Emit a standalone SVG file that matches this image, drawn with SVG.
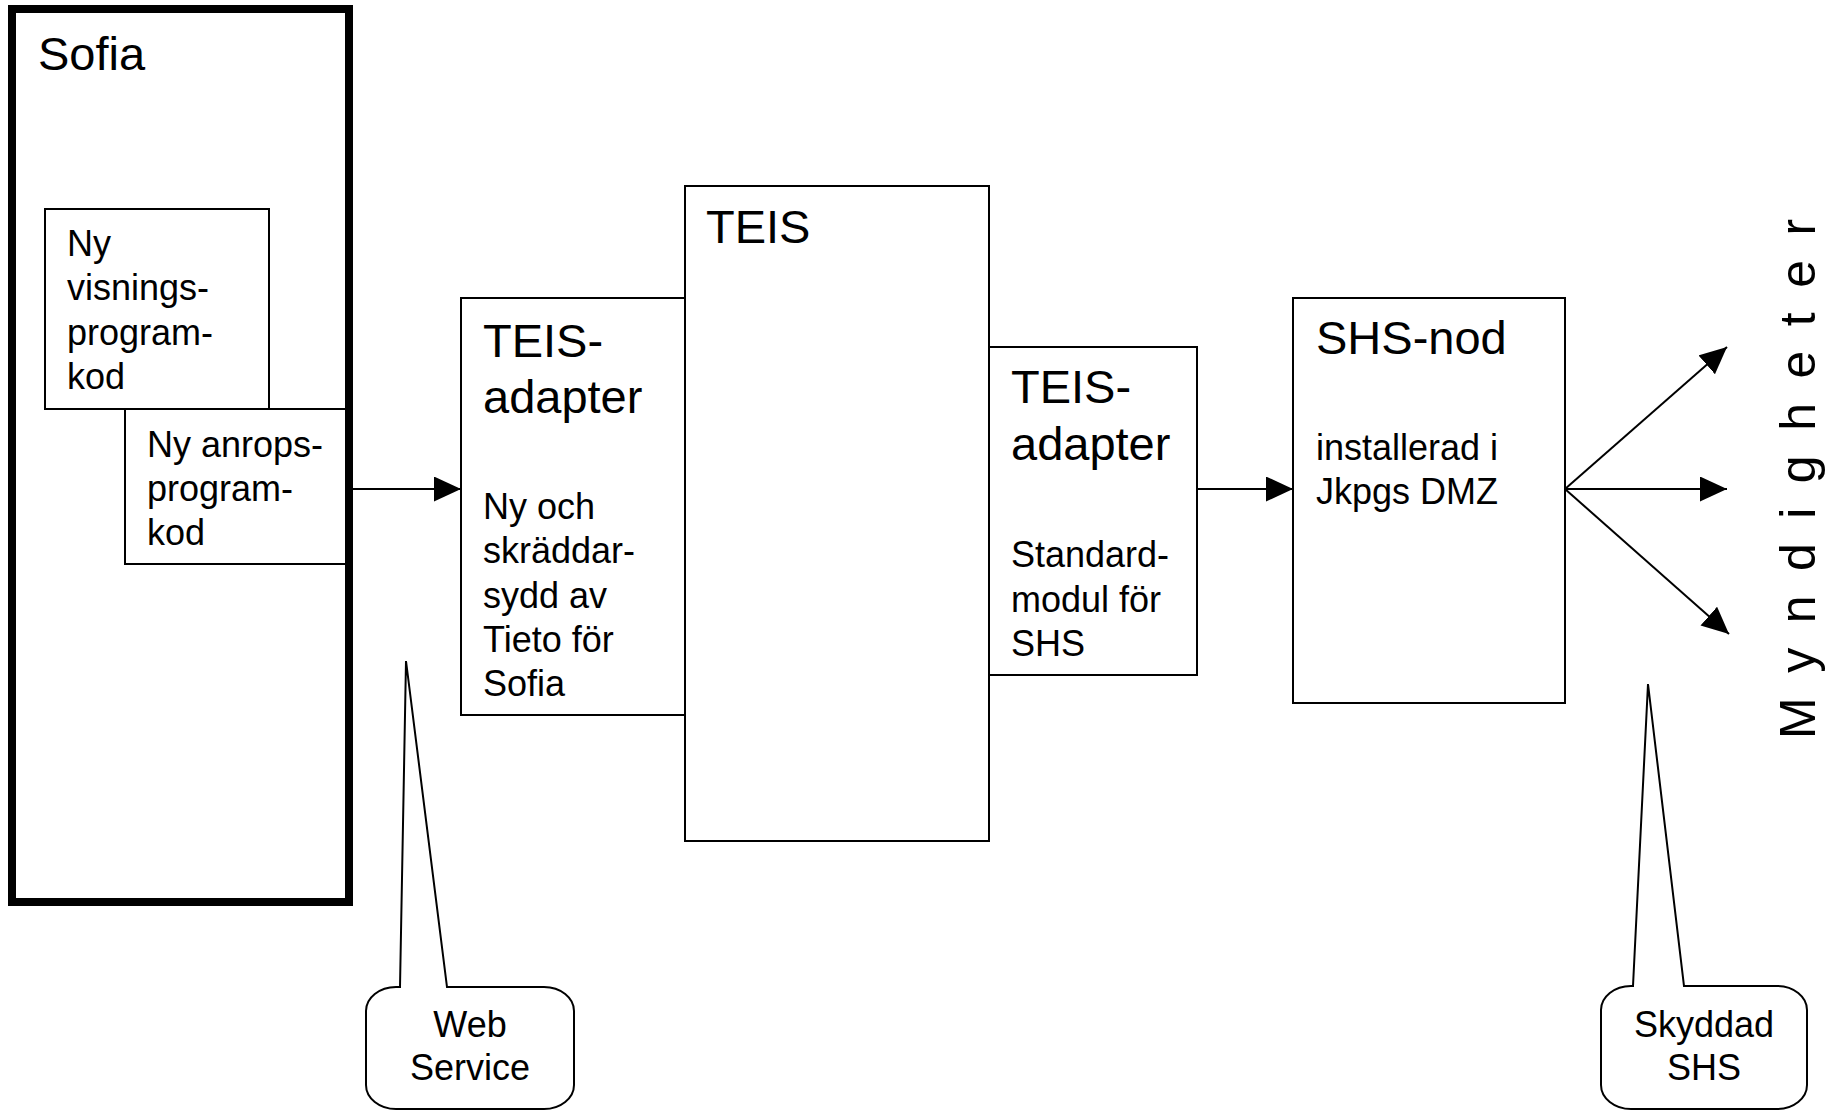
<svg xmlns="http://www.w3.org/2000/svg" width="1833" height="1111" viewBox="0 0 1833 1111">
<style>
text{font-family:"Liberation Sans",Arial,sans-serif;fill:#000}
.big{font-size:47px}
.mid{font-size:36px}
.box{fill:#fff;stroke:#000;stroke-width:2}
.thick{fill:#fff;stroke:#000;stroke-width:8}
.conn{fill:none;stroke:#000;stroke-width:2}
.callout{fill:#fff;stroke:#000;stroke-width:2}
</style>
<defs>
<marker id="ah" markerUnits="userSpaceOnUse" markerWidth="28" markerHeight="26" refX="27" refY="12.5" orient="auto">
<path d="M0,0 L27,12.5 L0,25 Z" fill="#000"/>
</marker>
</defs>
<rect width="1833" height="1111" fill="#fff"/>
<g id="sofia">
<rect class="thick" x="12" y="9" width="337" height="893"/>
<text class="big" x="38" y="70">Sofia</text>
</g>
<g id="visning">
<rect class="box" x="45" y="209" width="224" height="200"/>
<text class="mid"><tspan x="67" y="256">Ny</tspan><tspan x="67" y="300">visnings-</tspan><tspan x="67" y="345">program-</tspan><tspan x="67" y="389">kod</tspan></text>
</g>
<g id="anrop">
<rect class="box" x="125" y="409" width="224" height="155"/>
<text class="mid"><tspan x="147" y="457">Ny anrops-</tspan><tspan x="147" y="501">program-</tspan><tspan x="147" y="545">kod</tspan></text>
</g>
<line x1="349" y1="9" x2="349" y2="902" stroke="#000" stroke-width="8"/>
<g id="teisadapter1">
<rect class="box" x="461" y="298" width="224" height="417"/>
<text class="big"><tspan x="483" y="357">TEIS-</tspan><tspan x="483" y="413">adapter</tspan></text>
<text class="mid"><tspan x="483" y="519">Ny och</tspan><tspan x="483" y="563">skräddar-</tspan><tspan x="483" y="608">sydd av</tspan><tspan x="483" y="652">Tieto för</tspan><tspan x="483" y="696">Sofia</tspan></text>
</g>
<g id="teis">
<rect class="box" x="685" y="186" width="304" height="655"/>
<text class="big" x="706" y="243">TEIS</text>
</g>
<g id="teisadapter2">
<rect class="box" x="989" y="347" width="208" height="328"/>
<text class="big"><tspan x="1011" y="403">TEIS-</tspan><tspan x="1011" y="460">adapter</tspan></text>
<text class="mid"><tspan x="1011" y="567">Standard-</tspan><tspan x="1011" y="612">modul för</tspan><tspan x="1011" y="656">SHS</tspan></text>
</g>
<g id="shsnod">
<rect class="box" x="1293" y="298" width="272" height="405"/>
<text class="big" x="1316" y="354">SHS-nod</text>
<text class="mid"><tspan x="1316" y="460">installerad i</tspan><tspan x="1316" y="504">Jkpgs DMZ</tspan></text>
</g>
<g id="myndigheter">
<text transform="translate(1815,739) rotate(-90)" x="0" y="0" style="font-size:50px;letter-spacing:24.5px">Myndigheter</text>
</g>
<g id="connectors">
<line class="conn" x1="353" y1="489" x2="461" y2="489" marker-end="url(#ah)"/>
<line class="conn" x1="1197" y1="489" x2="1293" y2="489" marker-end="url(#ah)"/>
<line class="conn" x1="1565" y1="489" x2="1727" y2="347" marker-end="url(#ah)"/>
<line class="conn" x1="1565" y1="489" x2="1727" y2="489" marker-end="url(#ah)"/>
<line class="conn" x1="1565" y1="489" x2="1729" y2="634" marker-end="url(#ah)"/>
</g>
<g id="webservice">
<path class="callout" d="M400,987 L406,661 L447,987 L544,987 A30,24 0 0 1 574,1011 L574,1085 A30,24 0 0 1 544,1109 L396,1109 A30,24 0 0 1 366,1085 L366,1011 A30,24 0 0 1 396,987 Z"/>
<text class="mid" text-anchor="middle"><tspan x="470" y="1037">Web</tspan><tspan x="470" y="1080">Service</tspan></text>
</g>
<g id="skyddad">
<path class="callout" d="M1633,986 L1648,684 L1684,986 L1777,986 A30,24 0 0 1 1807,1010 L1807,1085 A30,24 0 0 1 1777,1109 L1631,1109 A30,24 0 0 1 1601,1085 L1601,1010 A30,24 0 0 1 1631,986 Z"/>
<text class="mid" text-anchor="middle"><tspan x="1704" y="1037">Skyddad</tspan><tspan x="1704" y="1080">SHS</tspan></text>
</g>
</svg>
